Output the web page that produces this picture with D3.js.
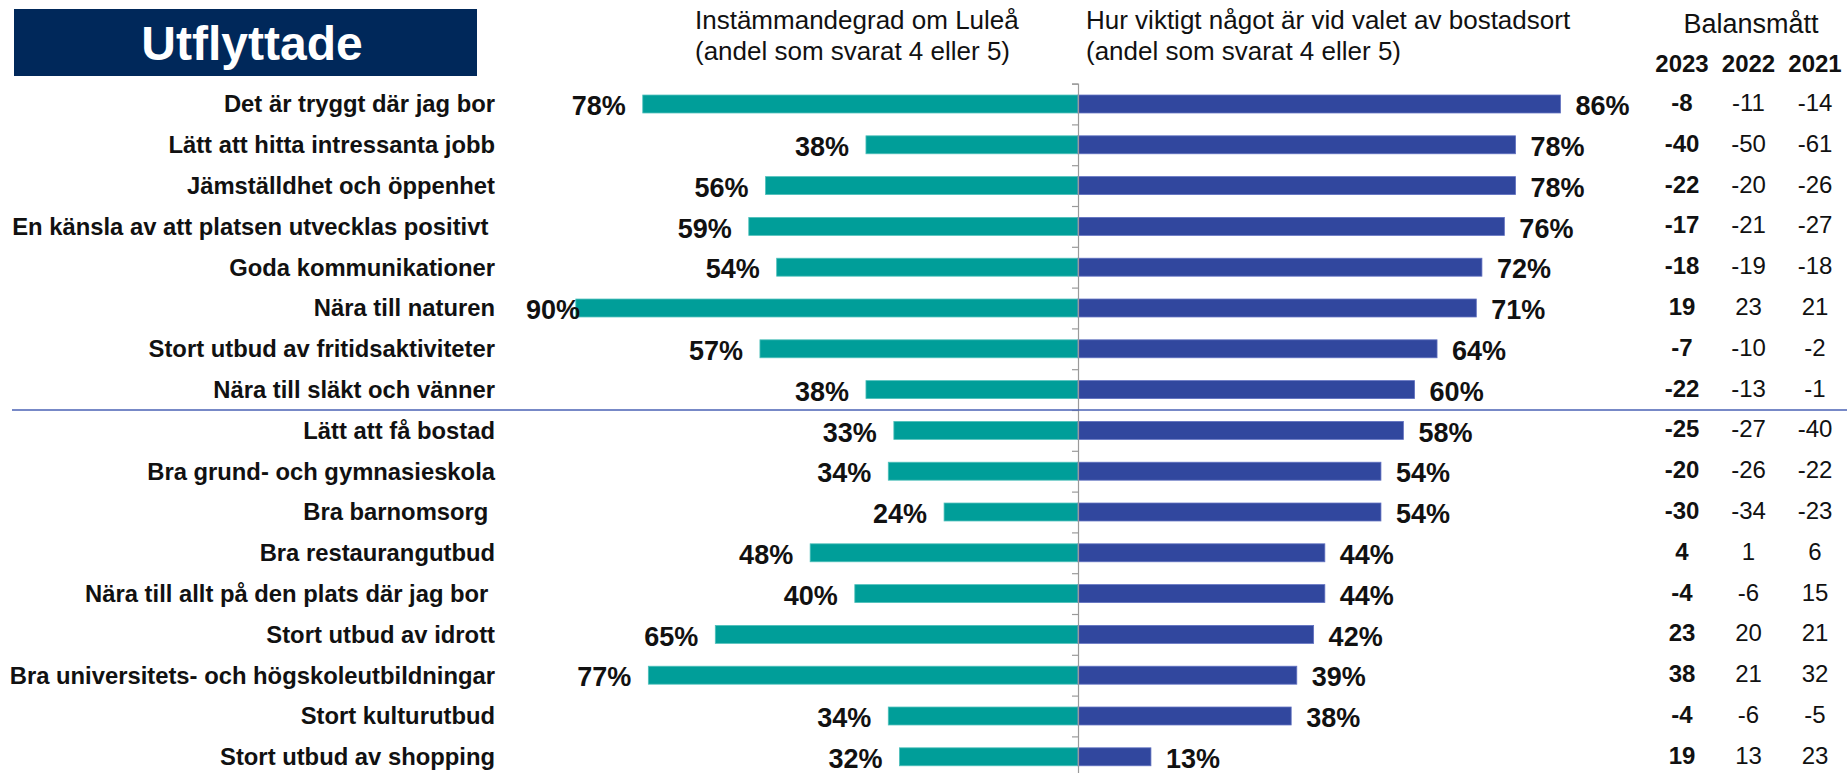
<!DOCTYPE html>
<html><head><meta charset="utf-8">
<script src="https://cdn.jsdelivr.net/npm/d3@7"></script>
<style>
html,body{margin:0;padding:0;background:#fff;}
svg{display:block;font-family:"Liberation Sans",Arial,sans-serif;}
</style></head>
<body>
<svg id="chart" width="1847" height="773"></svg>
<script>
const categories = [
  "Det är tryggt där jag bor",
  "Lätt att hitta intressanta jobb",
  "Jämställdhet och öppenhet",
  "En känsla av att platsen utvecklas positivt ",
  "Goda kommunikationer",
  "Nära till naturen",
  "Stort utbud av fritidsaktiviteter",
  "Nära till släkt och vänner",
  "Lätt att få bostad",
  "Bra grund- och gymnasieskola",
  "Bra barnomsorg ",
  "Bra restaurangutbud",
  "Nära till allt på den plats där jag bor ",
  "Stort utbud av idrott",
  "Bra universitets- och högskoleutbildningar",
  "Stort kulturutbud",
  "Stort utbud av shopping"
];
const agreeLulea = [78, 38, 56, 59, 54, 90, 57, 38, 33, 34, 24, 48, 40, 65, 77, 34, 32];
const importance = [86, 78, 78, 76, 72, 71, 64, 60, 58, 54, 54, 44, 44, 42, 39, 38, 13];
const balance2023 = [-8, -40, -22, -17, -18, 19, -7, -22, -25, -20, -30, 4, -4, 23, 38, -4, 19];
const balance2022 = [-11, -50, -20, -21, -19, 23, -10, -13, -27, -26, -34, 1, -6, 20, 21, -6, 13];
const balance2021 = [-14, -61, -26, -27, -18, 21, -2, -1, -40, -22, -23, 6, 15, 21, 32, -5, 23];
const years = ["2023", "2022", "2021"];
const title = "Utflyttade";
const headerLeft = ["Instämmandegrad om Luleå", "(andel som svarat 4 eller 5)"];
const headerRight = ["Hur viktigt något är vid valet av bostadsort", "(andel som svarat 4 eller 5)"];
const balanceTitle = "Balansmått";
const groupSplitAfter = 8; // first group has 8 items

const svg = d3.select("#chart");
const teal = "#009E99", blue = "#31479E", navy = "#00285A";

const axisX = 1078;
const rowTop = 83.6, rowStep = 40.8;
const n = categories.length;

const y = d3.scaleBand().domain(categories)
  .range([rowTop, rowTop + n * rowStep])
  .paddingInner(0.56).paddingOuter(0.28);
const xL = d3.scaleLinear().domain([0, 100]).range([axisX, axisX - 558]);
const xR = d3.scaleLinear().domain([0, 100]).range([axisX, axisX + 561]);
const rowIdx = d3.scaleLinear().domain([0, n]).range([rowTop, rowTop + n * rowStep]);
const cy = d => y(d) + y.bandwidth() / 2;

// Title box
svg.append("rect").attr("x", 14).attr("y", 9).attr("width", 463).attr("height", 67).attr("fill", navy);
svg.append("text").attr("x", 252).attr("y", 60).attr("text-anchor", "middle")
  .attr("fill", "#fff").attr("font-weight", "bold").attr("font-size", 48).text(title);

// Headers
headerLeft.forEach((t, i) => svg.append("text").attr("x", 695).attr("y", 29 + i * 31)
  .attr("font-size", 26).attr("fill", "#111").text(t));
headerRight.forEach((t, i) => svg.append("text").attr("x", 1086).attr("y", 29 + i * 31)
  .attr("font-size", 26).attr("fill", "#111").text(t));

// Balance header
svg.append("text").attr("x", 1751).attr("y", 33).attr("text-anchor", "middle")
  .attr("font-size", 27).attr("fill", "#111").text(balanceTitle);
const colX = d3.scalePoint().domain(years).range([1682, 1815]);
years.forEach(yr => svg.append("text").attr("x", colX(yr)).attr("y", 72)
  .attr("text-anchor", "middle").attr("font-size", 24).attr("font-weight", "bold")
  .attr("fill", "#111").text(yr));

// Row labels
svg.append("g").selectAll("text").data(categories).join("text")
  .attr("x", 495).attr("y", d => cy(d)).attr("dy", "0.35em")
  .attr("text-anchor", "end").attr("font-weight", "bold").attr("font-size", 23.8)
  .attr("fill", "#111").attr("xml:space", "preserve").style("white-space", "pre").text(d => d);

// Bars left
svg.append("g").selectAll("rect").data(categories).join("rect")
  .attr("x", (d, i) => xL(agreeLulea[i])).attr("y", d => y(d))
  .attr("width", (d, i) => axisX - xL(agreeLulea[i])).attr("height", y.bandwidth())
  .attr("fill", teal).attr("stroke", "#4fc0bb").attr("stroke-width", 0.8);
// Bars right
svg.append("g").selectAll("rect").data(categories).join("rect")
  .attr("x", axisX).attr("y", d => y(d))
  .attr("width", (d, i) => xR(importance[i]) - axisX).attr("height", y.bandwidth())
  .attr("fill", blue).attr("stroke", "#6070c0").attr("stroke-width", 0.8);

// Axis with ticks
const axis = d3.axisLeft(rowIdx).tickValues(d3.range(0, n + 1)).tickSize(6).tickFormat("");
const ag = svg.append("g").attr("transform", `translate(${axisX},0)`).call(axis);
ag.selectAll("path,line").attr("stroke", "#9a9a9a").attr("stroke-width", 1.2);

// Percent labels
svg.append("g").selectAll("text").data(categories).join("text")
  .attr("x", (d, i) => Math.max(xL(agreeLulea[i]) - 17, 580)).attr("y", d => cy(d) + 1.5).attr("dy", "0.36em")
  .attr("text-anchor", "end").attr("font-weight", "bold").attr("font-size", 27)
  .attr("fill", "#111").text((d, i) => agreeLulea[i] + "%");
svg.append("g").selectAll("text").data(categories).join("text")
  .attr("x", (d, i) => xR(importance[i]) + 15).attr("y", d => cy(d) + 1.5).attr("dy", "0.36em")
  .attr("text-anchor", "start").attr("font-weight", "bold").attr("font-size", 27)
  .attr("fill", "#111").text((d, i) => importance[i] + "%");

// Balance values
const balSeries = [balance2023, balance2022, balance2021];
balSeries.forEach((arr, k) => {
  svg.append("g").selectAll("text").data(categories).join("text")
    .attr("x", colX(years[k])).attr("y", d => cy(d) - 1.5).attr("dy", "0.35em")
    .attr("text-anchor", "middle").attr("font-size", 24)
    .attr("font-weight", k === 0 ? "bold" : "normal")
    .attr("fill", "#111").text((d, i) => arr[i]);
});

// Group separator
svg.append("line").attr("x1", 12).attr("x2", 1847)
  .attr("y1", rowIdx(groupSplitAfter)).attr("y2", rowIdx(groupSplitAfter))
  .attr("stroke", "#4a62b5").attr("stroke-width", 1.5);
</script>
</body></html>
